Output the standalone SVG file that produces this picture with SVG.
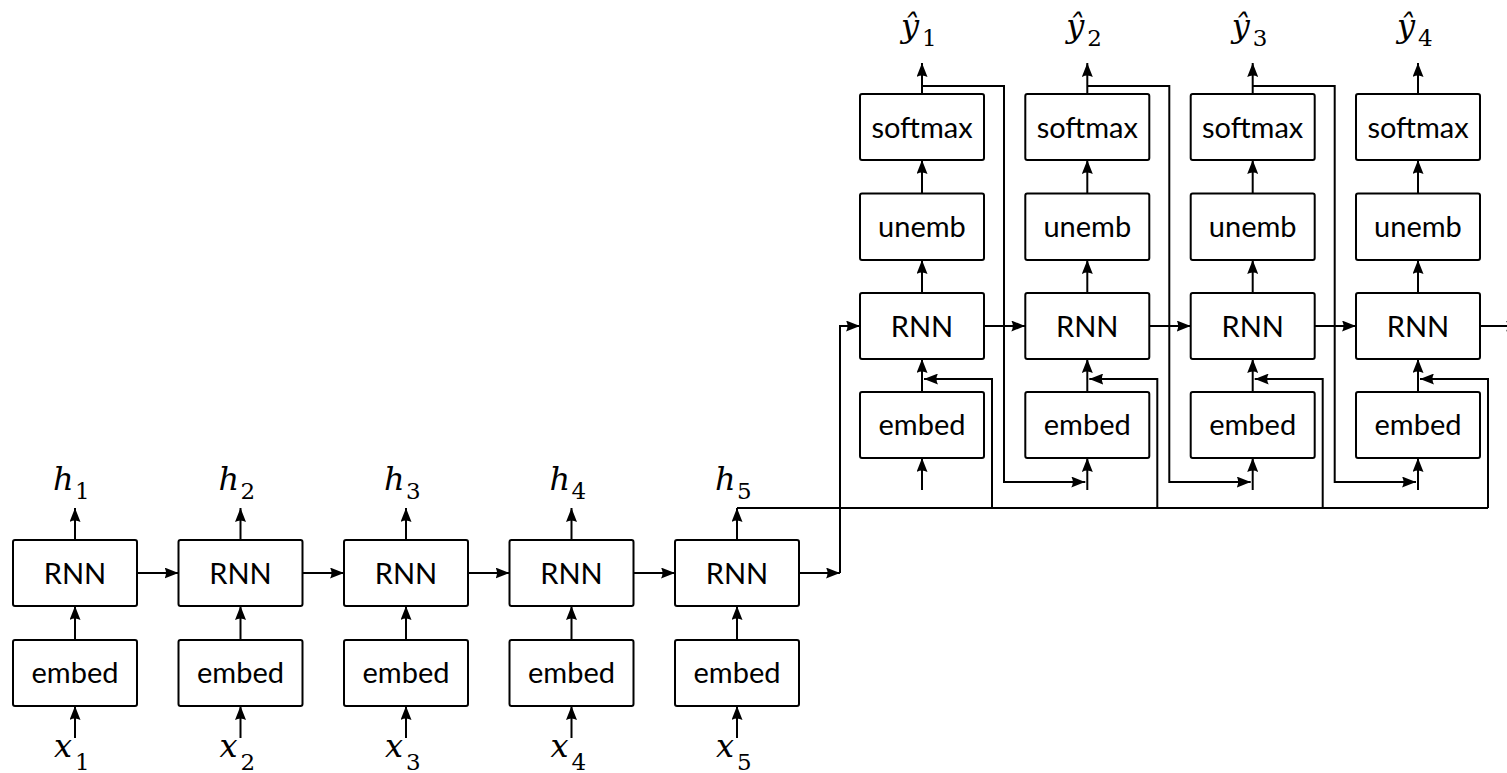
<svg xmlns="http://www.w3.org/2000/svg" width="1507" height="773" viewBox="0 0 1507 773">
<defs>
<marker id="ah" markerUnits="userSpaceOnUse" viewBox="0 0 14 11" refX="14" refY="5.5" markerWidth="14" markerHeight="11" orient="auto">
<path d="M0,0 L14,5.5 L0,11 Q3,5.5 0,0 z" fill="#000"/>
</marker>
<style>
.box{fill:#fff;stroke:#000;stroke-width:2}
.lbl{font-family:Lato,"DejaVu Sans",sans-serif;font-size:29px;text-anchor:middle;fill:#000}
.w{fill:none;stroke:#000;stroke-width:2}
.a{fill:none;stroke:#000;stroke-width:2;marker-end:url(#ah)}
.mi{font-family:"DejaVu Serif",serif;font-style:italic;font-size:32px;fill:#000}
.sub{font-family:"DejaVu Serif",serif;font-size:23px;fill:#000}
</style>
</defs>
<rect width="1507" height="773" fill="#fff"/>
<g id="connectors">
<path class="a" d="M75,738 V706"/><path class="a" d="M75,640 V606"/><path class="a" d="M75,540 V508"/>
<path class="a" d="M240.5,738 V706"/><path class="a" d="M240.5,640 V606"/><path class="a" d="M240.5,540 V508"/>
<path class="a" d="M406,738 V706"/><path class="a" d="M406,640 V606"/><path class="a" d="M406,540 V508"/>
<path class="a" d="M571.5,738 V706"/><path class="a" d="M571.5,640 V606"/><path class="a" d="M571.5,540 V508"/>
<path class="a" d="M737,738 V706"/><path class="a" d="M737,640 V606"/><path class="a" d="M737,540 V508"/>
<path class="a" d="M137,573 H178.5"/><path class="a" d="M302.5,573 H344"/><path class="a" d="M468,573 H509.5"/><path class="a" d="M633.5,573 H675"/>
<path class="a" d="M799,573 H840"/>
<path class="a" d="M840,573 V326 H860"/>
<path class="w" d="M737,508 H1488"/>
<path class="a" d="M992,508 V379 H924"/>
<path class="a" d="M1157.3,508 V379 H1089.3"/>
<path class="a" d="M1322.7,508 V379 H1254.7"/>
<path class="a" d="M1488,508 V379 H1420"/>
<path class="a" d="M922,490 V458"/><path class="a" d="M922,392 V359"/><path class="a" d="M922,293 V260"/><path class="a" d="M922,193 V160"/><path class="a" d="M922,94 V63"/>
<path class="a" d="M1087.3,490 V458"/><path class="a" d="M1087.3,392 V359"/><path class="a" d="M1087.3,293 V260"/><path class="a" d="M1087.3,193 V160"/><path class="a" d="M1087.3,94 V63"/>
<path class="a" d="M1252.7,490 V458"/><path class="a" d="M1252.7,392 V359"/><path class="a" d="M1252.7,293 V260"/><path class="a" d="M1252.7,193 V160"/><path class="a" d="M1252.7,94 V63"/>
<path class="a" d="M1418,490 V458"/><path class="a" d="M1418,392 V359"/><path class="a" d="M1418,293 V260"/><path class="a" d="M1418,193 V160"/><path class="a" d="M1418,94 V63"/>
<path class="a" d="M922,86 H1004 V482 H1085.3"/>
<path class="a" d="M1087.3,86 H1169.3 V482 H1250.7"/>
<path class="a" d="M1252.7,86 H1334.7 V482 H1416"/>
<path class="a" d="M984,326 H1025.3"/><path class="a" d="M1149.3,326 H1190.7"/><path class="a" d="M1314.7,326 H1356"/><path class="a" d="M1480,326 H1520"/>
</g>
<g id="enc1"><rect class="box" x="13" y="540" width="124" height="66" rx="2"/><text class="lbl" x="75" y="583.5">RNN</text></g>
<g id="enc2"><rect class="box" x="178.5" y="540" width="124" height="66" rx="2"/><text class="lbl" x="240.5" y="583.5">RNN</text></g>
<g id="enc3"><rect class="box" x="344" y="540" width="124" height="66" rx="2"/><text class="lbl" x="406" y="583.5">RNN</text></g>
<g id="enc4"><rect class="box" x="509.5" y="540" width="124" height="66" rx="2"/><text class="lbl" x="571.5" y="583.5">RNN</text></g>
<g id="enc5"><rect class="box" x="675" y="540" width="124" height="66" rx="2"/><text class="lbl" x="737" y="583.5">RNN</text></g>
<g id="emb1"><rect class="box" x="13" y="640" width="124" height="66" rx="2"/><text class="lbl" x="75" y="683">embed</text></g>
<g id="emb2"><rect class="box" x="178.5" y="640" width="124" height="66" rx="2"/><text class="lbl" x="240.5" y="683">embed</text></g>
<g id="emb3"><rect class="box" x="344" y="640" width="124" height="66" rx="2"/><text class="lbl" x="406" y="683">embed</text></g>
<g id="emb4"><rect class="box" x="509.5" y="640" width="124" height="66" rx="2"/><text class="lbl" x="571.5" y="683">embed</text></g>
<g id="emb5"><rect class="box" x="675" y="640" width="124" height="66" rx="2"/><text class="lbl" x="737" y="683">embed</text></g>
<g id="xlabels">
<text class="mi" x="54" y="757">x</text><text class="sub" x="75" y="770">1</text>
<text class="mi" x="219.5" y="757">x</text><text class="sub" x="240.5" y="770">2</text>
<text class="mi" x="385" y="757">x</text><text class="sub" x="406" y="770">3</text>
<text class="mi" x="550.5" y="757">x</text><text class="sub" x="571.5" y="770">4</text>
<text class="mi" x="716" y="757">x</text><text class="sub" x="737" y="770">5</text>
</g>
<g id="hlabels">
<text class="mi" x="53" y="490">h</text><text class="sub" x="75" y="499">1</text>
<text class="mi" x="218.5" y="490">h</text><text class="sub" x="240.5" y="499">2</text>
<text class="mi" x="384" y="490">h</text><text class="sub" x="406" y="499">3</text>
<text class="mi" x="549.5" y="490">h</text><text class="sub" x="571.5" y="499">4</text>
<text class="mi" x="715" y="490">h</text><text class="sub" x="737" y="499">5</text>
</g>
<g id="dec1">
<rect class="box" x="860" y="94" width="124" height="66" rx="2"/><text class="lbl" x="922" y="138">softmax</text>
<rect class="box" x="860" y="193.5" width="124" height="66.5" rx="2"/><text class="lbl" x="922" y="237">unemb</text>
<rect class="box" x="860" y="293" width="124" height="66" rx="2"/><text class="lbl" x="922" y="336.5">RNN</text>
<rect class="box" x="860" y="392" width="124" height="66" rx="2"/><text class="lbl" x="922" y="435">embed</text>
<text class="mi" x="901" y="37">ŷ</text><text class="sub" x="922" y="46">1</text>
</g>
<g id="dec2">
<rect class="box" x="1025.3" y="94" width="124" height="66" rx="2"/><text class="lbl" x="1087.3" y="138">softmax</text>
<rect class="box" x="1025.3" y="193.5" width="124" height="66.5" rx="2"/><text class="lbl" x="1087.3" y="237">unemb</text>
<rect class="box" x="1025.3" y="293" width="124" height="66" rx="2"/><text class="lbl" x="1087.3" y="336.5">RNN</text>
<rect class="box" x="1025.3" y="392" width="124" height="66" rx="2"/><text class="lbl" x="1087.3" y="435">embed</text>
<text class="mi" x="1066.3" y="37">ŷ</text><text class="sub" x="1087.3" y="46">2</text>
</g>
<g id="dec3">
<rect class="box" x="1190.7" y="94" width="124" height="66" rx="2"/><text class="lbl" x="1252.7" y="138">softmax</text>
<rect class="box" x="1190.7" y="193.5" width="124" height="66.5" rx="2"/><text class="lbl" x="1252.7" y="237">unemb</text>
<rect class="box" x="1190.7" y="293" width="124" height="66" rx="2"/><text class="lbl" x="1252.7" y="336.5">RNN</text>
<rect class="box" x="1190.7" y="392" width="124" height="66" rx="2"/><text class="lbl" x="1252.7" y="435">embed</text>
<text class="mi" x="1231.7" y="37">ŷ</text><text class="sub" x="1252.7" y="46">3</text>
</g>
<g id="dec4">
<rect class="box" x="1356" y="94" width="124" height="66" rx="2"/><text class="lbl" x="1418" y="138">softmax</text>
<rect class="box" x="1356" y="193.5" width="124" height="66.5" rx="2"/><text class="lbl" x="1418" y="237">unemb</text>
<rect class="box" x="1356" y="293" width="124" height="66" rx="2"/><text class="lbl" x="1418" y="336.5">RNN</text>
<rect class="box" x="1356" y="392" width="124" height="66" rx="2"/><text class="lbl" x="1418" y="435">embed</text>
<text class="mi" x="1397" y="37">ŷ</text><text class="sub" x="1418" y="46">4</text>
</g>
</svg>
